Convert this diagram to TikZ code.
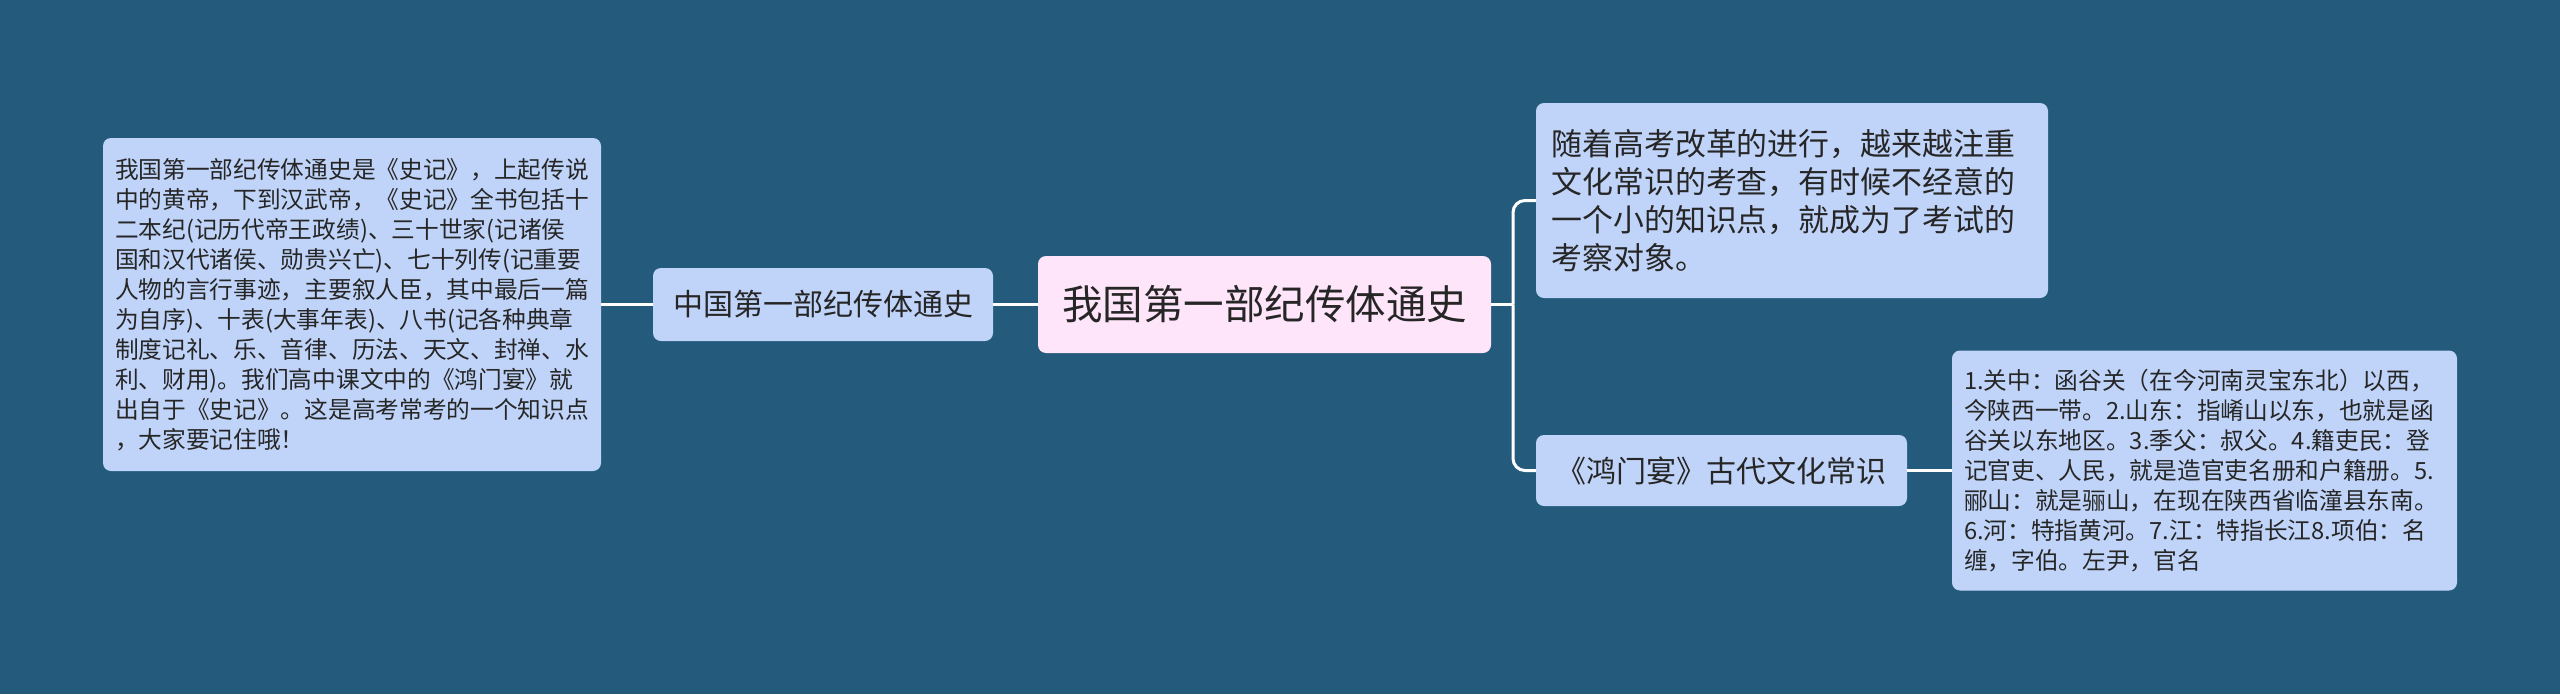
\documentclass[tikz,border=0pt]{standalone}
\usepackage{fontspec}
\setmainfont{Noto Sans CJK SC}
\definecolor{bg}{HTML}{245A7B}
\definecolor{boxblue}{HTML}{C0D4F9}
\definecolor{boxpink}{HTML}{FFE5FA}
\definecolor{txt}{HTML}{262626}
\tikzset{
  box/.style={fill=boxblue, rounded corners=8pt, inner sep=0pt, text=txt, align=left},
  rootbox/.style={fill=boxpink, rounded corners=8pt, inner sep=0pt, text=txt, align=center},
  link/.style={draw=white, line width=3pt},
  small/.style={font=\fontsize{23.7}{30}\selectfont},
  mid/.style={font=\fontsize{30}{38}\selectfont},
}
\begin{document}
\begin{tikzpicture}[x=1pt,y=-1pt]
\useasboundingbox (0,0) rectangle (2560,694);
\fill[bg] (0,0) rectangle (2560,694);

\node[rootbox, minimum width=453pt, minimum height=97pt, font=\fontsize{40.5}{48}\selectfont] (C) at (1264.5,304.5) {我国第一部纪传体通史};

\node[box, mid, minimum width=340pt, minimum height=73pt] (M) at (823,304.5) {中国第一部纪传体通史};

\node[box, small, inner xsep=12pt, text width=474pt, minimum height=333pt] (L) at (352,304.5) {我国第一部纪传体通史是《史记》，上起传说\\中的黄帝，下到汉武帝，《史记》全书包括十\\二本纪(记历代帝王政绩)、三十世家(记诸侯\\国和汉代诸侯、勋贵兴亡)、七十列传(记重要\\人物的言行事迹，主要叙人臣，其中最后一篇\\为自序)、十表(大事年表)、八书(记各种典章\\制度记礼、乐、音律、历法、天文、封禅、水\\利、财用)。我们高中课文中的《鸿门宴》就\\出自于《史记》。这是高考常考的一个知识点\\，大家要记住哦！};

\node[box, font=\fontsize{30.9}{38.2}\selectfont, inner xsep=15.5pt, text width=481pt, minimum height=195pt] (TR) at (1792,200.5) {随着高考改革的进行，越来越注重\\文化常识的考查，有时候不经意的\\一个小的知识点，就成为了考试的\\考察对象。};

\node[box, mid, minimum width=371pt, minimum height=71pt] (BM) at (1721.5,470.5) {《鸿门宴》古代文化常识};

\node[box, small, inner xsep=12pt, text width=481pt, minimum height=240pt] (BR) at (2204.5,470.5) {1.关中：函谷关（在今河南灵宝东北）以西，\\今陕西一带。2.山东：指崤山以东，也就是函\\谷关以东地区。3.季父：叔父。4.籍吏民：登\\记官吏、人民，就是造官吏名册和户籍册。5.\\郦山：就是骊山，在现在陕西省临潼县东南。\\6.河：特指黄河。7.江：特指长江8.项伯：名\\缠，字伯。左尹，官名};

\coordinate (bx) at (1513,304.5);
\draw[link] (C.west) -- (M.east);
\draw[link] (M.west) -- (L.east);
\draw[link] (C.east) -- (bx);
\draw[link, rounded corners=12pt] (bx) |- (TR.west);
\draw[link, rounded corners=12pt] (bx) |- (BM.west);
\draw[link] (BM.east) -- (BR.west);
\end{tikzpicture}
\end{document}
